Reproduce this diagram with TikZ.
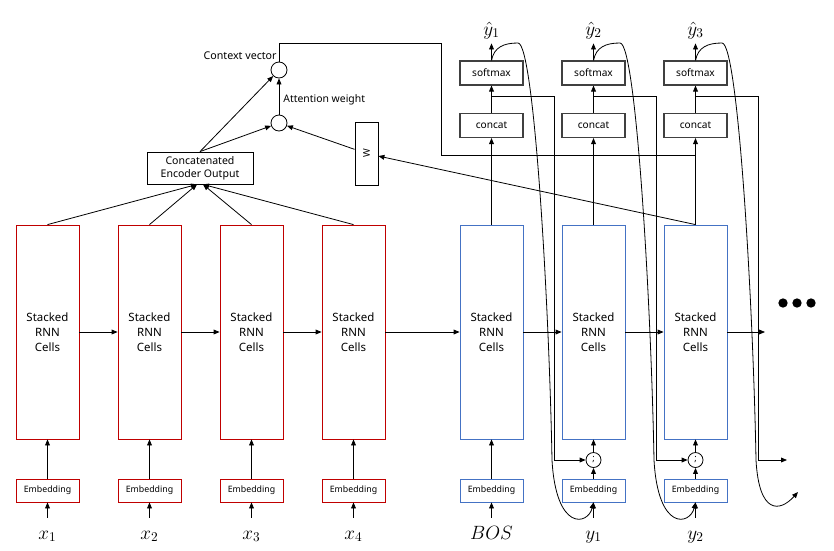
\documentclass[tikz,border=0pt]{standalone}
\usepackage{fontspec}
\setmainfont{Noto Sans}
\usetikzlibrary{arrows.meta,positioning}
\definecolor{encred}{RGB}{192,0,0}
\definecolor{decblue}{RGB}{68,114,196}

\begin{document}
\begin{tikzpicture}[x=0.75pt,y=-0.75pt,>={Triangle[length=4.5pt,width=3.6pt]},line width=0.6pt,
  every node/.style={inner sep=0pt},
  cell/.style={draw,minimum width=47.25pt,minimum height=160.5pt,align=center,font=\fontsize{8.6}{11.3}\selectfont},
  embbox/.style={draw,minimum width=47.25pt,minimum height=17.25pt,font=\fontsize{6.6}{8}\selectfont},
  opbox/.style={draw=black!75,line width=0.8pt,minimum width=47.25pt,minimum height=18pt,font=\fontsize{7.6}{9}\selectfont},
  ring/.style={draw,circle,minimum size=12pt},
  lbl/.style={anchor=base,text height=9pt,text depth=3pt,font=\fontsize{14}{16}\selectfont}]
\useasboundingbox (0,0) rectangle (834,550);
% encoder
\node[cell,draw=encred] (e1) at (47.5,332) {Stacked\\RNN\\Cells};
\node[cell,draw=encred] (e2) at (149.5,332) {Stacked\\RNN\\Cells};
\node[cell,draw=encred] (e3) at (251.5,332) {Stacked\\RNN\\Cells};
\node[cell,draw=encred] (e4) at (353.5,332) {Stacked\\RNN\\Cells};
\node[embbox,draw=encred] (em1) at (47.5,490.5) {Embedding};
\node[embbox,draw=encred] (em2) at (149.5,490.5) {Embedding};
\node[embbox,draw=encred] (em3) at (251.5,490.5) {Embedding};
\node[embbox,draw=encred] (em4) at (353.5,490.5) {Embedding};
\node[lbl] (x1) at (47.5,539) {$x_1$}; \node[lbl] (x2) at (149.5,539) {$x_2$};
\node[lbl] (x3) at (251.5,539) {$x_3$}; \node[lbl] (x4) at (353.5,539) {$x_4$};
% decoder
\node[cell,draw=decblue] (d1) at (491.5,332) {Stacked\\RNN\\Cells};
\node[cell,draw=decblue] (d2) at (593.5,332) {Stacked\\RNN\\Cells};
\node[cell,draw=decblue] (d3) at (695.5,332) {Stacked\\RNN\\Cells};
\node[embbox,draw=decblue] (dm1) at (491.5,490.5) {Embedding};
\node[embbox,draw=decblue] (dm2) at (593.5,490.5) {Embedding};
\node[embbox,draw=decblue] (dm3) at (695.5,490.5) {Embedding};
\node[lbl] (bos) at (491.5,539) {$BOS$}; \node[lbl] (y1) at (593.5,539) {$y_1$}; \node[lbl] (y2) at (695.5,539) {$y_2$};
\node[ring,minimum size=11.25pt,font=\fontsize{7}{8}\selectfont] (s1) at (593.5,460) {;};
\node[ring,minimum size=11.25pt,font=\fontsize{7}{8}\selectfont] (s2) at (695.5,460) {;};
\node[opbox] (c1) at (491.5,125.5) {concat}; \node[opbox] (f1) at (491.5,73) {softmax};
\node[opbox] (c2) at (593.5,125.5) {concat}; \node[opbox] (f2) at (593.5,73) {softmax};
\node[opbox] (c3) at (695.5,125.5) {concat}; \node[opbox] (f3) at (695.5,73) {softmax};
\node[lbl] (h1) at (491.5,35) {$\hat{y}_1$}; \node[lbl] (h2) at (593.5,35) {$\hat{y}_2$}; \node[lbl] (h3) at (695.5,35) {$\hat{y}_3$};
% attention
\node[draw,minimum width=79.5pt,minimum height=24pt,align=center,font=\fontsize{7.9}{9.75}\selectfont] (ceo) at (200,168) {Concatenated\\Encoder Output};
\node[ring] (att) at (279,123) {}; \node[ring] (ctx) at (279,70) {};
\node[draw,rotate=90,minimum width=47.25pt,minimum height=17.25pt,font=\fontsize{7}{8}\selectfont] (w) at (366.5,153.5) {W};
\node[above left=1.5pt and 1.5pt of ctx.north,font=\fontsize{8}{9}\selectfont] (cvl) {Context vector};
\node[anchor=base west,font=\fontsize{7.8}{9}\selectfont] (awl) at (283,102) {Attention weight};
\coordinate (cj) at (695.5,155); \coordinate (nx) at (765,332); \coordinate (ob) at (787,460); \coordinate (fb) at (798,492);
\coordinate (j1) at (491.5,96); \coordinate (j2) at (593.5,96); \coordinate (j3) at (695.5,96);
% connectors
\draw[->,shorten <=6.75pt] (x1) -- (em1); \draw[->,shorten <=6.75pt] (x2) -- (em2); \draw[->,shorten <=6.75pt] (x3) -- (em3); \draw[->,shorten <=6.75pt] (x4) -- (em4);
\draw[->,shorten <=6.75pt] (bos) -- (dm1); \draw[->,shorten <=6.75pt] (y1) -- (dm2); \draw[->,shorten <=6.75pt] (y2) -- (dm3);
\draw[->] (em1) -- (e1); \draw[->] (em2) -- (e2); \draw[->] (em3) -- (e3); \draw[->] (em4) -- (e4);
\draw[->] (dm1) -- (d1); \draw[->] (dm2) -- (s1); \draw[->] (s1) -- (d2); \draw[->] (dm3) -- (s2); \draw[->] (s2) -- (d3);
\draw[->] (e1) -- (e2); \draw[->] (e2) -- (e3); \draw[->] (e3) -- (e4); \draw[->] (e4) -- (d1);
\draw[->] (d1) -- (d2); \draw[->] (d2) -- (d3); \draw[->] (d3) -- (nx);
\draw[->] (d1) -- (c1); \draw[->] (c1) -- (f1); \draw[->,shorten >=3pt] (f1) -- (h1);
\draw[->] (d2) -- (c2); \draw[->] (c2) -- (f2); \draw[->,shorten >=3pt] (f2) -- (h2);
\draw[->] (d3) -- (c3); \draw[->] (c3) -- (f3); \draw[->,shorten >=3pt] (f3) -- (h3);
\draw[->] (e1.north) -- ([xshift=-2.25pt]ceo.south); \draw[->] (e2.north) -- ([xshift=-2.25pt]ceo.south);
\draw[->] (e3.north) -- ([xshift=2.25pt]ceo.south); \draw[->] (e4.north) -- ([xshift=2.25pt]ceo.south);
\draw[->] (ceo.north) -- (ctx); \draw[->] (ceo.north) -- (att); \draw[->] (att) -- (ctx);
\draw[->] (w) -- (att); \draw[->] (d3.north) -- (w);
\draw (ctx.north) |- (441,43) |- (cj);
\draw[->] (j1) -| (554,460) -- (s1); \draw[->] (j2) -| (656,460) -- (s2); \draw[->] (j3) -| (758,460) -- (ob);
% feedback of predictions
\draw[->] (f1.north) .. controls (494,47) and (504,43) .. (518,43) .. controls (534,43) and (549,300) .. (552,460) .. controls (556,532) and (588,525) .. (dm2.south);
\draw[->] (f2.north) .. controls (596,47) and (606,43) .. (620,43) .. controls (636,43) and (651,300) .. (654,460) .. controls (658,532) and (690,525) .. (dm3.south);
\draw[->] (f3.north) .. controls (698,47) and (708,43) .. (722,43) .. controls (738,43) and (753,300) .. (756,460) .. controls (759,515) and (780,512) .. (fb);
\fill (783,303) circle[radius=3.5pt] (797,303) circle[radius=3.5pt] (811,303) circle[radius=3.5pt];
\end{tikzpicture}
\end{document}
